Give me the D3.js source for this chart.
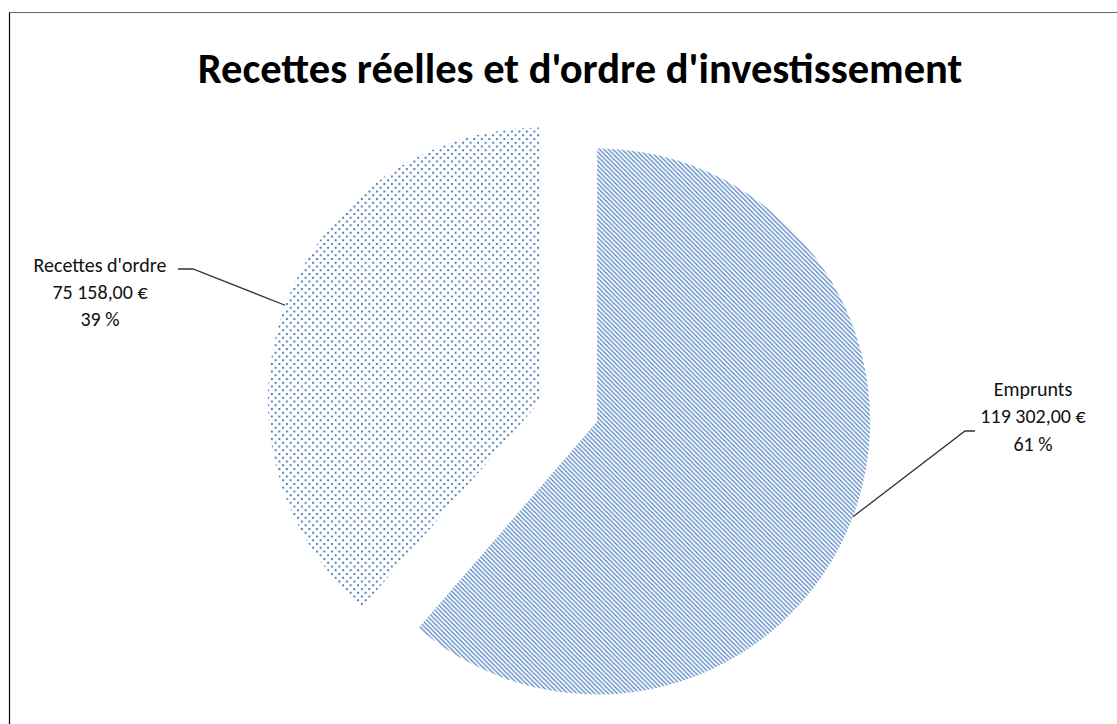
<!DOCTYPE html>
<html><head><meta charset="utf-8">
<script src="https://cdn.jsdelivr.net/npm/d3@7"></script>
<style>html,body{margin:0;padding:0;background:#fff;}svg{display:block;}</style>
</head><body>
<svg id="chart" width="1117" height="724"></svg>
<script>
const categories = ["Emprunts", "Recettes d'ordre"];
const values = [119302, 75158];
const titleText = "Recettes réelles et d'ordre d'investissement";

const W = 1117, H = 724;
const svg = d3.select("#chart");
svg.append("rect").attr("width", W).attr("height", H).attr("fill", "#fff");

// frame
svg.append("line").attr("x1", 9.5).attr("x2", W).attr("y1", 12.5).attr("y2", 12.5).attr("stroke", "#6a6a6a").attr("stroke-width", 1.2);
svg.append("line").attr("x1", 9.5).attr("x2", 9.5).attr("y1", 12.5).attr("y2", H).attr("stroke", "#000").attr("stroke-width", 1.2);

const defs = svg.append("defs");
const blue = "#4f81bd";
const stripes = defs.append("pattern").attr("id", "stripes").attr("patternUnits", "userSpaceOnUse")
  .attr("width", 4.5).attr("height", 4.5);
stripes.append("path").attr("d", "M-1,-1L5.5,5.5M-1,3.5L1,5.5M3.5,-1L5.5,1")
  .attr("stroke", "#5686c4").attr("stroke-width", 1.3).attr("fill", "none");
const dots = defs.append("pattern").attr("id", "dots").attr("patternUnits", "userSpaceOnUse")
  .attr("width", 7.5).attr("height", 7.5);
dots.append("rect").attr("x", 0).attr("y", 0).attr("width", 2).attr("height", 2).attr("fill", blue);
dots.append("rect").attr("x", 3.75).attr("y", 3.75).attr("width", 2).attr("height", 2).attr("fill", blue);
const fills = ["url(#stripes)", "url(#dots)"];

const fontFam = "Carlito, 'Open Sans', sans-serif";

// title, fitted to the reference width
const title = svg.append("text").attr("x", 580).attr("y", 83).attr("text-anchor", "middle")
  .attr("font-family", fontFam).attr("font-weight", "bold").attr("font-size", 32)
  .attr("fill", "#000").text(titleText);
const tw = title.node().getComputedTextLength();
title.attr("font-size", 32 * 765 / tw);

// pie
const cx = 569, cy = 411, r = 273, explode = 30;
const total = d3.sum(values);
const pie = d3.pie().sort(null).startAngle(0).endAngle(2 * Math.PI);
const arcs = pie(values);
const arc = d3.arc().innerRadius(0).outerRadius(r);

const loc = d3.formatLocale({decimal: ",", thousands: "\u00a0", grouping: [3], currency: ["", "\u00a0€"]});
const fmt = loc.format(",.2f");

const g = svg.append("g").attr("transform", `translate(${cx},${cy})`);
arcs.forEach((a, i) => {
  const mid = (a.startAngle + a.endAngle) / 2;
  const ox = explode * Math.sin(mid), oy = -explode * Math.cos(mid);
  g.append("path").attr("d", arc(a)).attr("fill", fills[i])
    .attr("transform", `translate(${ox},${oy})`);
});

// labels
const labelLayout = [
  {cxText: 1033, baselines: [396, 423, 451], elbow: [965, 431], end: [975, 431]},
  {cxText: 100, baselines: [272, 299, 326], elbow: [193, 269], end: [178, 269]}
];
arcs.forEach((a, i) => {
  const L = labelLayout[i];
  const mid = (a.startAngle + a.endAngle) / 2;
  const px = cx + (explode + r) * Math.sin(mid), py = cy - (explode + r) * Math.cos(mid);
  svg.append("path").attr("d", `M${px},${py}L${L.elbow[0]},${L.elbow[1]}L${L.end[0]},${L.end[1]}`)
    .attr("fill", "none").attr("stroke", "#333").attr("stroke-width", 1.3);
  const lines = [categories[i], fmt(values[i]) + "\u00a0€", Math.round(values[i] / total * 100) + " %"];
  lines.forEach((t, j) => {
    svg.append("text").attr("x", L.cxText).attr("y", L.baselines[j]).attr("text-anchor", "middle")
      .attr("font-family", fontFam).attr("font-size", 20).attr("fill", "#111").text(t);
  });
});
</script>
</body></html>
